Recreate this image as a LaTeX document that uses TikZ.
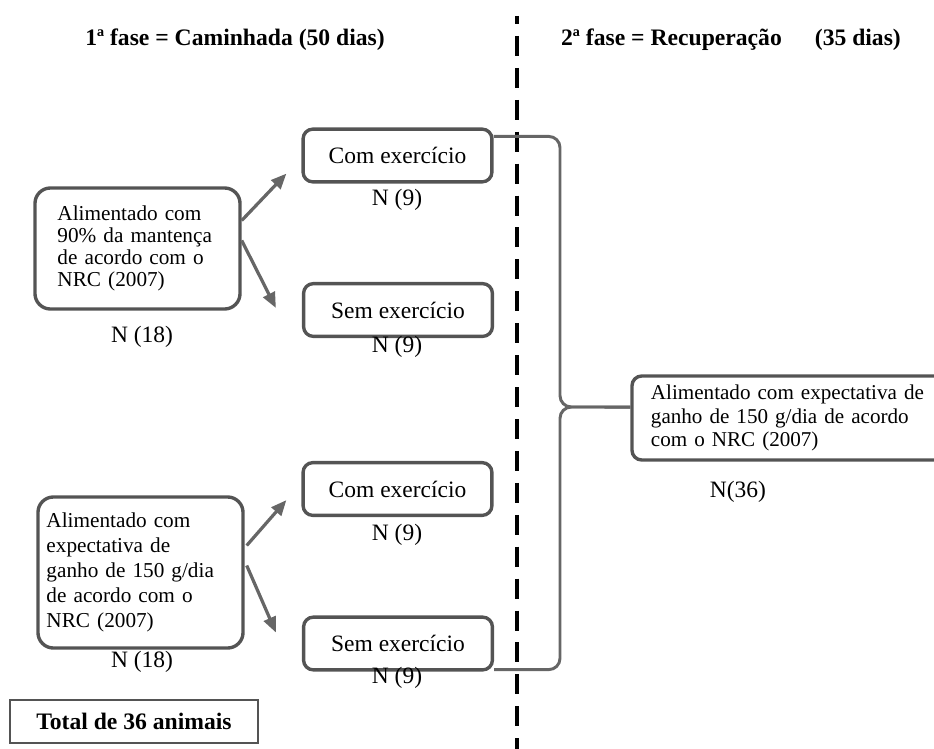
\documentclass[tikz,border=0pt]{standalone}
\usepackage{fontspec}
\setmainfont{Liberation Serif}
\usetikzlibrary{arrows.meta}
\definecolor{borda}{gray}{0.33}
\definecolor{cinza}{gray}{0.40}

\begin{document}
\begin{tikzpicture}[x=0.025cm, y=-0.025cm,
    caixa/.style={rectangle, draw=borda, line width=2.4pt, rounded corners=11pt, align=left},
    trat/.style={rectangle, draw=borda, line width=2.4pt, rounded corners=7pt, minimum width=4.72cm, minimum height=1.32cm, font=\fontsize{16.7}{19}\selectfont},
    rotulo/.style={font=\fontsize{16.7}{19}\selectfont},
    titulo/.style={font=\bfseries\fontsize{16.8}{20}\selectfont},
    seta/.style={draw=cinza, line width=2.3pt, -{Triangle[length=11pt,width=9pt]}},
    chave/.style={draw=cinza, line width=2.1pt, rounded corners=8pt},
    divisa/.style={line width=3.2pt, dash pattern=on 14.2pt off 8.5pt, dash phase=8.5pt}]
    \useasboundingbox (0,0) rectangle (934,749);

    % titulos das fases
    \node (fase1) [titulo] at (235,40) {1ª fase = Caminhada (50 dias)};
    \node (fase2) [titulo] at (731,40) {2ª fase = Recuperação\hspace{1.4em}(35 dias)};
    \coordinate (topo) at (517,16);
    \coordinate (base) at (517,749);
    \draw[divisa] (topo) -- (base);

    % grupos da 1a fase
    \node (a1) [caixa, minimum width=5.125cm, minimum height=3.025cm, text width=4cm,
        font=\fontsize{15.1}{15.6}\selectfont] at (137.5,248.5)
        {Alimentado com\\90\% da mantença\\de acordo com o\\NRC (2007)};
    \node (na1) [rotulo] at (142,337) {N (18)};
    \node (b1) [caixa, minimum width=5.125cm, minimum height=3.775cm, text width=4.7cm,
        font=\fontsize{15.1}{17.8}\selectfont] at (140.5,572.5)
        {Alimentado com\\expectativa de\\ganho de 150 g/dia\\de acordo com o\\NRC (2007)};
    \node (nb1) [rotulo] at (142,662) {N (18)};

    \node (c1) [trat] at (397.5,155.5) {Com exercício};
    \node (nc1) [rotulo] at (397,200) {N (9)};
    \node (s1) [trat] at (398,310) {Sem exercício};
    \node (ns1) [rotulo] at (397,347) {N (9)};
    \node (c2) [trat] at (397.5,489) {Com exercício};
    \node (nc2) [rotulo] at (397,535) {N (9)};
    \node (s2) [trat] at (398,643.5) {Sem exercício};
    \node (ns2) [rotulo] at (397,678) {N (9)};

    \node (total) [rectangle, draw=borda, line width=1.8pt, minimum width=6.2cm, minimum height=1.075cm,
        font=\bfseries\fontsize{16.8}{20}\selectfont] at (134,721.5) {Total de 36 animais};

    % 2a fase
    \node (rec) [caixa, rounded corners=7pt, minimum width=8cm, minimum height=2.1cm, text width=7.05cm,
        font=\fontsize{15}{16.7}\selectfont] at (792,418)
        {Alimentado com expectativa de\\ganho de 150 g/dia de acordo\\com o NRC (2007)};
    \node (nrec) [rotulo] at (738,492) {N(36)};

    \draw[seta] ([shift={(0,-28)}]a1.east) -- ([shift={(-15,-10)}]c1.south west);
    \draw[seta] ([shift={(0,-8)}]a1.east) -- ([shift={(-26,-2)}]s1.west);
    \draw[seta] ([shift={(2,-27)}]b1.east) -- ([shift={(-15,-17)}]c2.south west);
    \draw[seta] ([shift={(2,-7)}]b1.east) -- ([shift={(-26,-11)}]s2.west);

    \draw[chave] ([yshift=-6.4pt]c1.north east) -| (560,407) -- ([yshift=7.8pt]rec.west);
    \draw[chave] ([yshift=1.4pt]s2.south east) -| (560,407) -- ([yshift=7.8pt]rec.west);
\end{tikzpicture}
\end{document}
